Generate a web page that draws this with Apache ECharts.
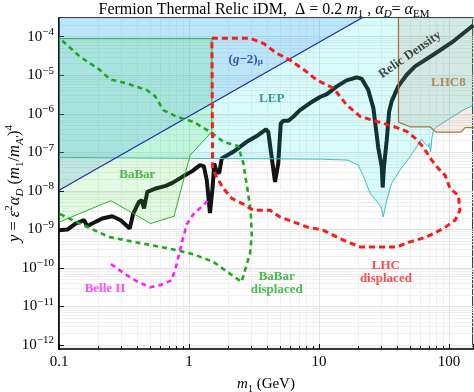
<!DOCTYPE html>
<html><head><meta charset="utf-8">
<script src="https://cdn.jsdelivr.net/npm/echarts@6/dist/echarts.min.js"></script>
<style>html,body{margin:0;padding:0;background:#fff}#c{width:474px;height:392px}</style>
</head><body><div id="c"></div>
<script>
const SERIF = "'Liberation Serif','DejaVu Serif',serif";
const X_MIN = 0.1, X_MAX = 153;
const Y_MIN = 7.87e-13, Y_MAX = 3.06e-4;

// Relic density curve
const relicM = [0.1,0.116,0.134,0.156,0.165,0.18,0.215,0.257,0.298,0.35,0.371,0.412,0.432,0.451,0.478,0.554,0.662,0.745,0.888,1.06,1.215,1.30,1.37,1.45,1.52,1.565,1.63,1.71,1.785,2.19,2.78,3.32,3.91,4.07,4.59,4.86,5.08,5.31,5.81,6.34,7.14,8.53,10.2,11.5,13.7,16.3,19.5,21.3,23.9,26.2,28.6,30.4,30.9,31.6,33.2,34.6,36.2,40.7,47.3,54.8,75.7,108,154];
const relicY = [9.5e-10,9.9e-10,1.42e-9,1.73e-9,1.21e-9,1.42e-9,1.92e-9,2.2e-9,1.73e-9,1.05e-9,2.48e-9,5.18e-9,5.73e-9,3.49e-9,9.4e-9,1.15e-8,1.35e-8,1.61e-8,2.31e-8,3.25e-8,4.65e-8,4.38e-8,1.9e-8,2.64e-9,1.27e-8,5.15e-8,3.11e-8,2.93e-8,6.94e-8,1.03e-7,1.87e-7,2.64e-7,3.94e-7,3.41e-7,1.71e-8,5.15e-8,5.63e-7,6.58e-7,6.58e-7,8.36e-7,1.25e-6,1.9e-6,2.72e-6,3.25e-6,5.15e-6,7.38e-6,8.83e-6,8.1e-6,4.2e-6,1.41e-6,1.29e-7,4.2e-8,1.22e-8,4.2e-8,2.07e-7,1.11e-6,2.1e-6,5.15e-6,1.03e-5,1.7e-5,3.4e-5,7.6e-5,1.98e-4];

// LEP lower boundary
const lepM = [0.1,1.215,10.2,16.7,20.0,21.8,24.8,30.0,31.2,33.2,36.2,42.0,50.1,56.4,61.7,65.4,69.3,70.6,72.3,73.6,75.7,80.4,101.8,128.8,154];
const lepY = [7.4e-8,6.94e-8,6.65e-8,6.27e-8,4.65e-8,2.56e-8,8.55e-9,3.84e-9,2.11e-9,5.73e-9,1.56e-8,3.45e-8,7.64e-8,1.39e-7,2.16e-7,1.7e-7,1.39e-7,1.7e-7,1.03e-7,2.07e-7,3.77e-7,4.59e-7,7.6e-7,1.25e-6,1.68e-6];

// (g-2)_mu boundary
const g2M = [0.1, 30];
const g2Y = [1.04e-8, 5.9e-4];

// BaBar (mono-photon) region boundary
const babarM = [0.1,0.25,0.507,0.767,1.02,1.5,1.5,0.1];
const babarY = [1.54e-9,5.56e-9,1.42e-9,2.2e-9,8.45e-8,3.4e-7,8.9e-5,8.9e-5];

// LHC8 region lower boundary
const lhc8M = [40.9,50.1,71.4,79.4,123.7,132.8,160];
const lhc8Y = [6.08e-7,4.59e-7,4.59e-7,3.35e-7,3.35e-7,4.38e-7,4.38e-7];

// BaBar displaced (dashed)
const babarDispM = [0.106,0.145,0.207,0.247,0.332,0.473,0.548,0.634,0.804,1.08,1.45,1.84,2.39,2.62,2.76,2.98,3.04,2.95,2.54,2.33,1.54,1.08,0.702,0.437,0.242,0.16,0.1];
const babarDispY = [7.87e-5,3.03e-5,1.36e-5,7.82e-6,6.16e-6,4.13e-6,2.88e-6,1.25e-6,8.36e-7,6.2e-7,3.41e-7,1.87e-7,1.45e-7,5.15e-8,1.68e-8,3.15e-9,7.07e-10,2.41e-10,4.33e-11,5.3e-11,1.43e-10,2.27e-10,3.19e-10,4.3e-10,6.38e-10,1.21e-9,2.56e-9];

// LHC displaced (dashed, closed)
const lhcDispM = [1.5,2.95,3.73,4.73,5.98,8.04,9.6,12.9,16.3,20.7,27.8,37.3,47.3,54.8,63.4,73.6,82.7,93.2,101.8,117.9,121.5,111.2,90.4,67.4,50.1,39.6,20.7,15.4,10.8,8.04,6.34,5.01,4.2,3.12,2.62,2.14,1.84,1.63,1.52,1.5];
const lhcDispY = [9.1e-5,9.1e-5,6.74e-5,3.71e-5,2.48e-5,1.23e-5,7.5e-6,4.65e-6,1.71e-6,8.55e-7,6.34e-7,4.71e-7,3.49e-7,2.34e-7,1.36e-7,6.27e-8,3.82e-8,2.56e-8,1.15e-8,7.73e-9,3.15e-9,1.73e-9,1.05e-9,6.38e-10,4.73e-10,3.51e-10,3.51e-10,5.24e-10,9.5e-10,1.16e-9,1.57e-9,2.11e-9,3.15e-9,3.15e-9,4.51e-9,6.34e-9,1.15e-8,2.31e-8,3.89e-8,9.1e-5];

// Belle II (dashed)
const belleM = [0.251,0.332,0.396,0.501,0.598,0.736,0.804,0.853,0.904,0.96,1.08,1.29,1.45];
const belleY = [1.25e-10,6.46e-11,4.51e-11,3.15e-11,3.55e-11,4.79e-11,1.25e-10,2.88e-10,6.27e-10,1.36e-9,2.48e-9,4.25e-9,6.34e-9];

// Text labels: [m, y]
const labelText = ['{i|(}{ii|g}{i|−2)}{s|μ}', 'LEP', 'BaBar', 'Belle II', 'BaBar\ndisplaced', 'LHC\ndisplaced', 'LHC8', 'Relic Density'];
const labelM = [2.73, 4.33, 0.40, 0.226, 4.73, 32.7, 98.8, 50.1];
const labelY = [2.48e-5, 2.51e-6, 2.56e-8, 2.92e-11, 4.0e-11, 7.9e-11, 6.27e-6, 3.4e-5];
const labelColor = ['#1c2a9e', '#128080', '#22aa22', '#ff22ff', '#22aa22', '#ff2020', '#a8743c', '#1a1a1a'];
const labelRotate = [0, 0, 0, 0, 0, 0, 0, 35];

const zip = (a, b) => a.map((v, i) => [v, b[i]]);

function polySeries(ms, ys, color, z) {
  return {
    type: 'custom', coordinateSystem: 'cartesian2d', z: z, clip: true, silent: true,
    data: [[ms[0], ys[0]]],
    renderItem: function (params, api) {
      return { type: 'polygon', shape: { points: ms.map((m, i) => api.coord([m, ys[i]])) }, style: { fill: color } };
    }
  };
}
function lineSeries(data, color, width, type, z) {
  return {
    type: 'line', data: data, showSymbol: false, symbol: 'none', clip: true, z: z, silent: true,
    lineStyle: { color: color, width: width, type: type }, animation: false
  };
}

const chart = echarts.init(document.getElementById('c'), null, { renderer: 'canvas' });
const rich = {
  i: { fontFamily: SERIF, fontSize: 16.5, fontStyle: 'italic', lineHeight: 22 },
  n: { fontFamily: SERIF, fontSize: 16.5, lineHeight: 22 },
  sub: { fontFamily: SERIF, fontSize: 11, verticalAlign: 'bottom', lineHeight: 14 },
  subi: { fontFamily: SERIF, fontSize: 11, fontStyle: 'italic', verticalAlign: 'bottom', lineHeight: 14 },
  sup: { fontFamily: SERIF, fontSize: 11, verticalAlign: 'top', lineHeight: 14 }
};
const richX = {
  i: { fontFamily: SERIF, fontSize: 15, fontStyle: 'italic', lineHeight: 20 },
  n: { fontFamily: SERIF, fontSize: 15, lineHeight: 20 },
  sub: { fontFamily: SERIF, fontSize: 10, verticalAlign: 'bottom', lineHeight: 13 }
};

const option = {
  animation: false,
  backgroundColor: '#fff',
  grid: { left: 59, right: 1, top: 18, bottom: 43, containLabel: false, outerBoundsMode: 'none', show: true, borderColor: '#000', borderWidth: 1.5, backgroundColor: 'transparent' },
  graphic: [{
    type: 'text', x: 264, y: 10, silent: true,
    style: {
      text: 'Fermion Thermal Relic iDM,  Δ = 0.2 {i|m}{sub|1} , {i|α}{subi|D}= {i|α}{sub|EM}',
      fontFamily: SERIF, fontSize: 16, fill: '#000', align: 'center', verticalAlign: 'middle',
      rich: {
        i: { fontFamily: SERIF, fontSize: 16, fontStyle: 'italic', fill: '#000', lineHeight: 20 },
        sub: { fontFamily: SERIF, fontSize: 11, fill: '#000', verticalAlign: 'bottom', lineHeight: 13 },
        subi: { fontFamily: SERIF, fontSize: 11, fontStyle: 'italic', fill: '#000', verticalAlign: 'bottom', lineHeight: 13 }
      },
      lineHeight: 20
    }
  }],
  xAxis: {
    type: 'log', min: X_MIN, max: X_MAX, logBase: 10,
    name: '{i|m}{sub|1}{n| (GeV)}', nameLocation: 'middle', nameGap: 25, nameMoveOverlap: false,
    nameTextStyle: { fontFamily: SERIF, fontSize: 15, color: '#000', rich: richX },
    axisLine: { show: true, lineStyle: { color: '#000', width: 1.5 } },
    axisTick: { show: true, inside: true, length: 5, lineStyle: { color: '#000', width: 1 } },
    minorTick: { show: true, splitNumber: 9, length: 3, lineStyle: { color: '#000', width: 1 } },
    axisLabel: {
      margin: 6, fontFamily: SERIF, fontSize: 15, color: '#000', showMaxLabel: false,
      formatter: function (v) { const e = Math.log10(v); if (Math.abs(e - Math.round(e)) > 1e-6) return ''; return String(+v.toPrecision(6)); }
    },
    splitLine: { show: true, lineStyle: { color: '#e2e2e2', width: 1 } },
    minorSplitLine: { show: true, lineStyle: { color: '#efefef', width: 1 } }
  },
  yAxis: {
    type: 'log', min: Y_MIN, max: Y_MAX, logBase: 10,
    name: '{i|y}{n| = }{i|ε}{sup|2}{i|α}{subi|D}{n| (}{i|m}{sub|1}{n|/}{i|m}{subi|A\'}{n|)}{sup|4}',
    nameLocation: 'middle', nameGap: 33, nameMoveOverlap: false,
    nameTextStyle: { fontFamily: SERIF, fontSize: 16.5, color: '#000', rich: rich },
    axisLine: { show: true, lineStyle: { color: '#000', width: 1.5 } },
    axisTick: { show: true, inside: true, length: 5, lineStyle: { color: '#000', width: 1 } },
    minorTick: { show: false, splitNumber: 9 },
    axisLabel: {
      margin: 5, color: '#000', showMinLabel: false, showMaxLabel: false,
      formatter: function (v) { const e = Math.log10(v); if (Math.abs(e - Math.round(e)) > 1e-6) return ''; const n = Math.round(e); return '{b|10}{s|' + (n < 0 ? '−' : '') + Math.abs(n) + '}'; },
      rich: {
        b: { fontFamily: SERIF, fontSize: 15, color: '#000', lineHeight: 20 },
        s: { fontFamily: SERIF, fontSize: 11, color: '#000', lineHeight: 13, verticalAlign: 'top' }
      }
    },
    splitLine: { show: true, lineStyle: { color: '#e2e2e2', width: 1 } },
    minorSplitLine: { show: true, lineStyle: { color: '#efefef', width: 1 } }
  },
  series: [
    lineSeries(zip(relicM, relicY), '#141414', 4, 'solid', 2),
    polySeries(lepM.concat([lepM[lepM.length - 1], lepM[0]]), lepY.concat([Y_MAX, Y_MAX]), 'rgba(0,225,225,0.15)', 3),
    polySeries([g2M[0], g2M[1], g2M[0]], [g2Y[0], g2Y[1], g2Y[1]], 'rgba(80,150,240,0.22)', 3),
    polySeries(babarM, babarY, 'rgba(60,220,60,0.15)', 3),
    polySeries([lhc8M[0]].concat(lhc8M, [lhc8M[lhc8M.length - 1]]), [Y_MAX].concat(lhc8Y, [Y_MAX]), 'rgba(170,110,60,0.12)', 3),
    lineSeries(zip(lepM, lepY), '#3dbdbd', 1, 'solid', 4),
    lineSeries(zip(g2M, g2Y), '#1c2fa8', 1.2, 'solid', 4),
    lineSeries(zip(babarM, babarY), '#2db52d', 1, 'solid', 4),
    lineSeries([[lhc8M[0], Y_MAX]].concat(zip(lhc8M, lhc8Y)), '#a8743c', 1.2, 'solid', 4),
    lineSeries(zip(babarDispM, babarDispY), '#1fa81f', 2.6, [5, 4], 5),
    lineSeries(zip(lhcDispM, lhcDispY), '#ff1a1a', 3, [6, 4], 5),
    lineSeries(zip(belleM, belleY), '#ff1aff', 2.6, [5, 4], 5),
    {
      type: 'scatter', symbolSize: 0, z: 6, silent: true,
      data: labelText.map((t, i) => ({
        value: [labelM[i], labelY[i]],
        label: {
          show: true, position: 'inside', formatter: t, rotate: labelRotate[i],
          color: labelColor[i], fontFamily: SERIF, fontSize: 13, fontWeight: 'bold', lineHeight: 13, align: 'center',
          rich: {
            i: { fontFamily: SERIF, fontSize: 13, fontWeight: 'bold', color: labelColor[i] },
            ii: { fontFamily: SERIF, fontSize: 13, fontWeight: 'bold', fontStyle: 'italic', color: labelColor[i] },
            s: { fontFamily: SERIF, fontSize: 9, fontWeight: 'bold', color: labelColor[i], verticalAlign: 'bottom', lineHeight: 10 }
          }
        }
      }))
    }
  ]
};
chart.setOption(option);
</script></body></html>
